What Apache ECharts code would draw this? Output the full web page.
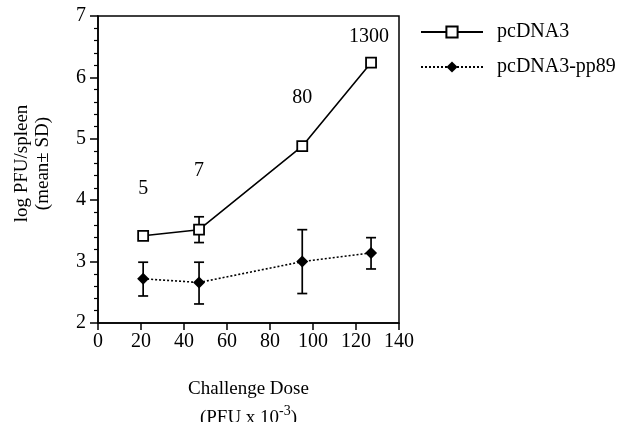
<!DOCTYPE html>
<html>
<head>
<meta charset="utf-8">
<script src="https://cdn.jsdelivr.net/npm/echarts@6/dist/echarts.min.js"></script>
<style>html,body{margin:0;padding:0;background:#fff;}#c{width:631px;height:422px;}</style>
</head>
<body>
<div id="c"></div>
<script>
// ---- data ----
const doses = [21, 47, 95, 127];
const pcDNA3 = [3.42, 3.52, 4.88, 6.24];
const pcDNA3Low = [null, 3.31, null, null];
const pcDNA3High = [null, 3.73, null, null];
const pp89 = [2.72, 2.66, 3.00, 3.14];
const pp89Low = [2.44, 2.31, 2.48, 2.88];
const pp89High = [2.99, 2.99, 3.52, 3.39];
const annotText = ['5', '7', '80', '1300'];
const annotX = [21, 47, 95, 126];
const annotY = [4.19, 4.48, 5.67, 6.66];
const xTicks = [0, 20, 40, 60, 80, 100, 120, 140];
const yTicks = [2, 3, 4, 5, 6, 7];
const seriesNames = ['pcDNA3', 'pcDNA3-pp89'];

const FONT = '"Liberation Serif", "Times New Roman", serif';

function pairs(xs, ys) { return xs.map((x, i) => [x, ys[i]]); }
function errData(xs, lo, hi) {
  const out = [];
  xs.forEach((x, i) => { if (lo[i] != null && hi[i] != null) out.push([x, lo[i], hi[i]]); });
  return out;
}
function errRender(params, api) {
  const x = api.value(0);
  const lo = api.coord([x, api.value(1)]);
  const hi = api.coord([x, api.value(2)]);
  const cw = 5;
  const st = { stroke: '#000', lineWidth: 1.7 };
  return {
    type: 'group',
    children: [
      { type: 'line', shape: { x1: lo[0], y1: lo[1], x2: hi[0], y2: hi[1] }, style: st },
      { type: 'line', shape: { x1: lo[0] - cw, y1: lo[1], x2: lo[0] + cw, y2: lo[1] }, style: st },
      { type: 'line', shape: { x1: hi[0] - cw, y1: hi[1], x2: hi[0] + cw, y2: hi[1] }, style: st }
    ]
  };
}

const chart = echarts.init(document.getElementById('c'));
chart.setOption({
  animation: false,
  backgroundColor: '#fff',
  textStyle: { fontFamily: FONT, color: '#000' },
  grid: {
    left: 98, right: 232, top: 16, bottom: 99, show: true,
    borderColor: '#000', borderWidth: 1.5,
    containLabel: false, outerBoundsMode: 'none'
  },
  legend: {
    orient: 'vertical', left: 420, top: 22, padding: 0,
    itemWidth: 62, itemHeight: 14, itemGap: 15,
    data: seriesNames,
    textStyle: { fontFamily: FONT, fontSize: 20, color: '#000', padding: [0, 0, 0, 9] }
  },
  xAxis: {
    type: 'value', min: xTicks[0], max: xTicks[xTicks.length - 1], interval: 20,
    splitLine: { show: false },
    axisLine: { lineStyle: { color: '#000', width: 1.5 } },
    axisTick: { length: 7, lineStyle: { color: '#000', width: 1.5 } },
    axisLabel: { color: '#000', fontFamily: FONT, fontSize: 20, margin: 9 },
    name: 'Challenge Dose\n(PFU x 10{sup|-3})',
    nameLocation: 'middle', nameGap: 52,
    nameTextStyle: {
      fontFamily: FONT, fontSize: 19, color: '#000', lineHeight: 29,
      rich: { sup: { fontFamily: FONT, fontSize: 14, verticalAlign: 'top', padding: [0, 0, 10, 0] } }
    }
  },
  yAxis: {
    type: 'value', min: yTicks[0], max: yTicks[yTicks.length - 1], interval: 1,
    splitLine: { show: false },
    axisLine: { lineStyle: { color: '#000', width: 1.5 } },
    axisTick: { length: 8, lineStyle: { color: '#000', width: 1.5 } },
    minorTick: { show: true, splitNumber: 5, length: 4, lineStyle: { color: '#000', width: 1.2 } },
    axisLabel: { color: '#000', fontFamily: FONT, fontSize: 20, margin: 12 },
    name: 'log PFU/spleen\n(mean± SD)',
    nameLocation: 'middle', nameRotate: 90, nameGap: 44,
    nameTextStyle: { fontFamily: FONT, fontSize: 19, color: '#000', lineHeight: 21, padding: [0, 0, 0, 12] }
  },
  series: [
    {
      type: 'custom', z: 1, silent: true,
      renderItem: errRender, data: errData(doses, pcDNA3Low, pcDNA3High)
    },
    {
      type: 'custom', z: 1, silent: true,
      renderItem: errRender, data: errData(doses, pp89Low, pp89High)
    },
    {
      name: seriesNames[0], type: 'line', z: 3,
      data: pairs(doses, pcDNA3),
      symbol: 'rect', symbolSize: 10,
      lineStyle: { color: '#000', width: 1.6, type: 'solid' },
      itemStyle: { color: '#fff', borderColor: '#000', borderWidth: 1.8 }
    },
    {
      name: seriesNames[1], type: 'line', z: 3,
      data: pairs(doses, pp89),
      symbol: 'diamond', symbolSize: 12,
      lineStyle: { color: '#000', width: 1.6, type: [2, 2] },
      itemStyle: { color: '#000', borderColor: '#000', borderWidth: 0 }
    },
    {
      type: 'scatter', z: 4, silent: true, symbolSize: 1,
      itemStyle: { color: 'rgba(0,0,0,0)' },
      data: annotX.map((x, i) => ({ value: [x, annotY[i]], label: { formatter: annotText[i] } })),
      label: {
        show: true, position: 'inside', color: '#000', opacity: 1,
        textBorderWidth: 0, fontFamily: FONT, fontSize: 20
      }
    }
  ]
});
</script>
</body>
</html>
